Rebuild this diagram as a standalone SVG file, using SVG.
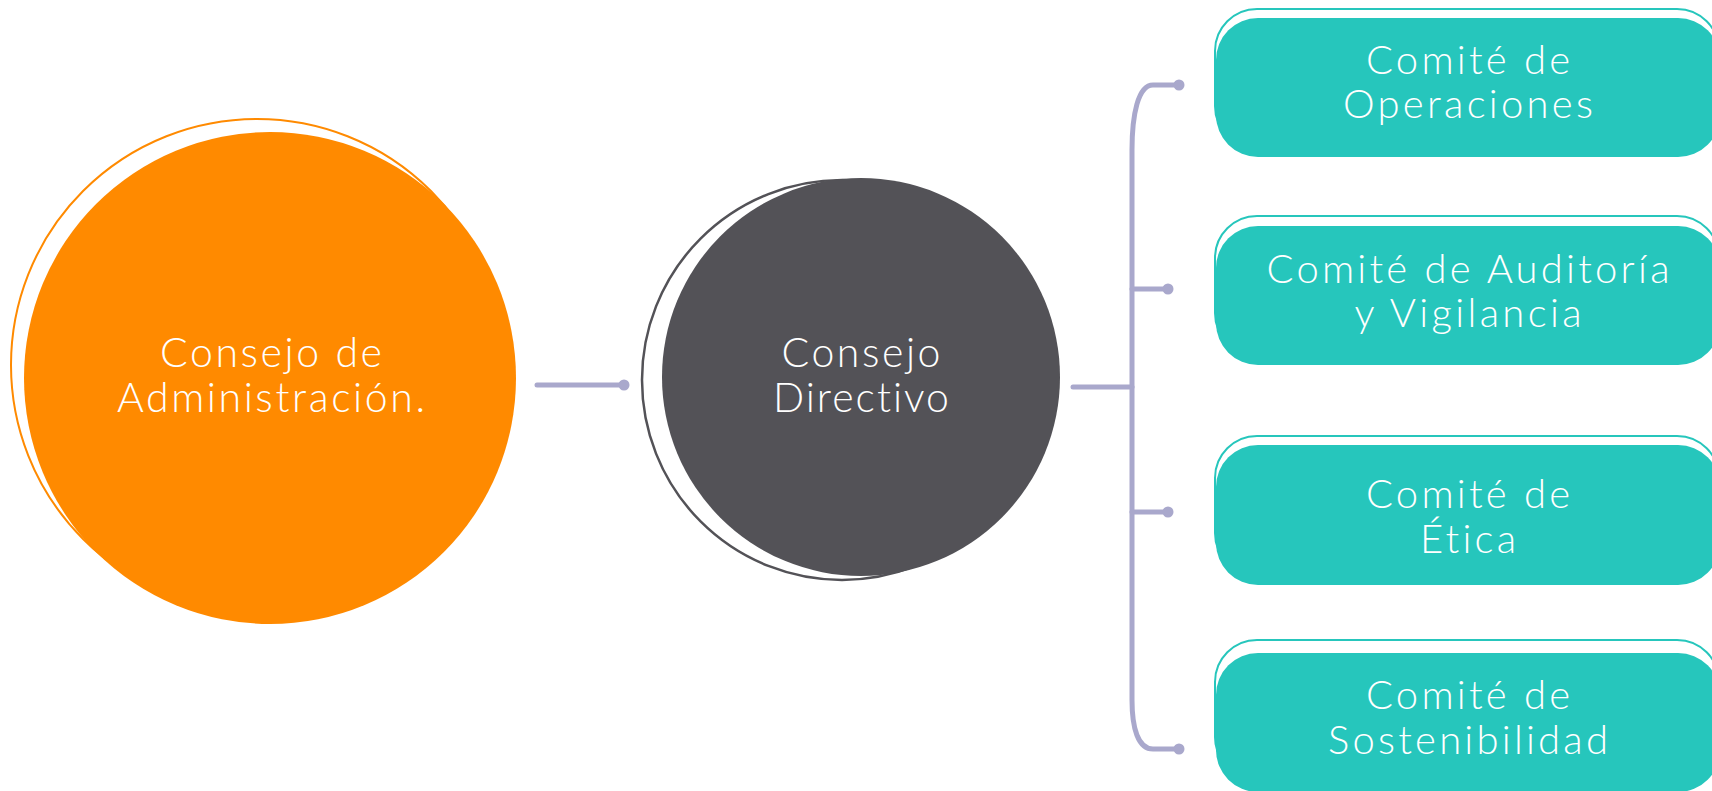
<svg xmlns="http://www.w3.org/2000/svg" width="1712" height="791" viewBox="0 0 1712 791">
  <style>
    .lbl { font-family: Lato, "Open Sans", "Liberation Sans", sans-serif; font-weight: 300; fill: #FFFFFF; text-anchor: middle; font-variant-ligatures: none; }
    .big { font-size: 41px; }
    .box { font-size: 40px; }
    .conn { fill: none; stroke: #A9A8CC; stroke-width: 5; stroke-linecap: round; stroke-linejoin: round; }
    .dot { fill: #A9A8CC; }
    .tealFill { fill: #26C6BC; }
    .tealLine { fill: none; stroke: #26C6BC; stroke-width: 2; }
  </style>
  <rect width="1712" height="791" fill="#FFFFFF"/>

  <g id="connectors">
    <line class="conn" x1="537" y1="385" x2="624" y2="385"/>
    <circle class="dot" cx="624" cy="385" r="5.5"/>
    <line class="conn" x1="1073" y1="387" x2="1132" y2="387"/>
    <path class="conn" d="M 1179 85 L 1153 85 C 1138 85 1132 115 1132 150 L 1132 700 C 1132 728 1138 749 1153 749 L 1179 749"/>
    <line class="conn" x1="1132" y1="289" x2="1168" y2="289"/>
    <line class="conn" x1="1132" y1="512" x2="1168" y2="512"/>
    <circle class="dot" cx="1179" cy="85" r="5.5"/>
    <circle class="dot" cx="1168" cy="289" r="5.5"/>
    <circle class="dot" cx="1168" cy="512" r="5.5"/>
    <circle class="dot" cx="1179" cy="749" r="5.5"/>
  </g>

  <g id="consejo-administracion">
    <circle cx="257" cy="365" r="246" fill="none" stroke="#FF8A00" stroke-width="2"/>
    <circle cx="270" cy="378" r="246" fill="#FF8A00"/>
    <text class="lbl big" x="271" y="367" textLength="222" lengthAdjust="spacing">Consejo de</text>
    <text class="lbl big" x="271" y="412" textLength="308" lengthAdjust="spacing">Administración.</text>
  </g>

  <g id="consejo-directivo">
    <circle cx="842" cy="380" r="200" fill="none" stroke="#535257" stroke-width="2.5"/>
    <circle cx="861" cy="377" r="199" fill="#535257"/>
    <text class="lbl big" x="861" y="367" textLength="159" lengthAdjust="spacing">Consejo</text>
    <text class="lbl big" x="861" y="412" textLength="176" lengthAdjust="spacing">Directivo</text>
  </g>

  <g id="comite-operaciones">
    <rect class="tealLine" x="1215" y="9" width="504" height="139" rx="42"/>
    <rect class="tealFill" x="1216" y="18" width="504" height="139" rx="42"/>
    <text class="lbl box" x="1468" y="74" textLength="204" lengthAdjust="spacing">Comité de</text>
    <text class="lbl box" x="1468" y="118" textLength="250" lengthAdjust="spacing">Operaciones</text>
  </g>

  <g id="comite-auditoria">
    <rect class="tealLine" x="1215" y="216" width="504" height="139" rx="42"/>
    <rect class="tealFill" x="1216" y="226" width="504" height="139" rx="42"/>
    <text class="lbl box" x="1468" y="283" textLength="403" lengthAdjust="spacing">Comité de Auditoría</text>
    <text class="lbl box" x="1468" y="327" textLength="227" lengthAdjust="spacing">y Vigilancia</text>
  </g>

  <g id="comite-etica">
    <rect class="tealLine" x="1215" y="436" width="504" height="139" rx="42"/>
    <rect class="tealFill" x="1216" y="445" width="504" height="140" rx="42"/>
    <text class="lbl box" x="1468" y="508" textLength="204" lengthAdjust="spacing">Comité de</text>
    <text class="lbl box" x="1468" y="553" textLength="96" lengthAdjust="spacing">Ética</text>
  </g>

  <g id="comite-sostenibilidad">
    <rect class="tealLine" x="1215" y="640" width="504" height="139" rx="42"/>
    <rect class="tealFill" x="1216" y="653" width="504" height="139" rx="42"/>
    <text class="lbl box" x="1468" y="709" textLength="204" lengthAdjust="spacing">Comité de</text>
    <text class="lbl box" x="1468" y="754" textLength="280" lengthAdjust="spacing">Sostenibilidad</text>
  </g>
</svg>
